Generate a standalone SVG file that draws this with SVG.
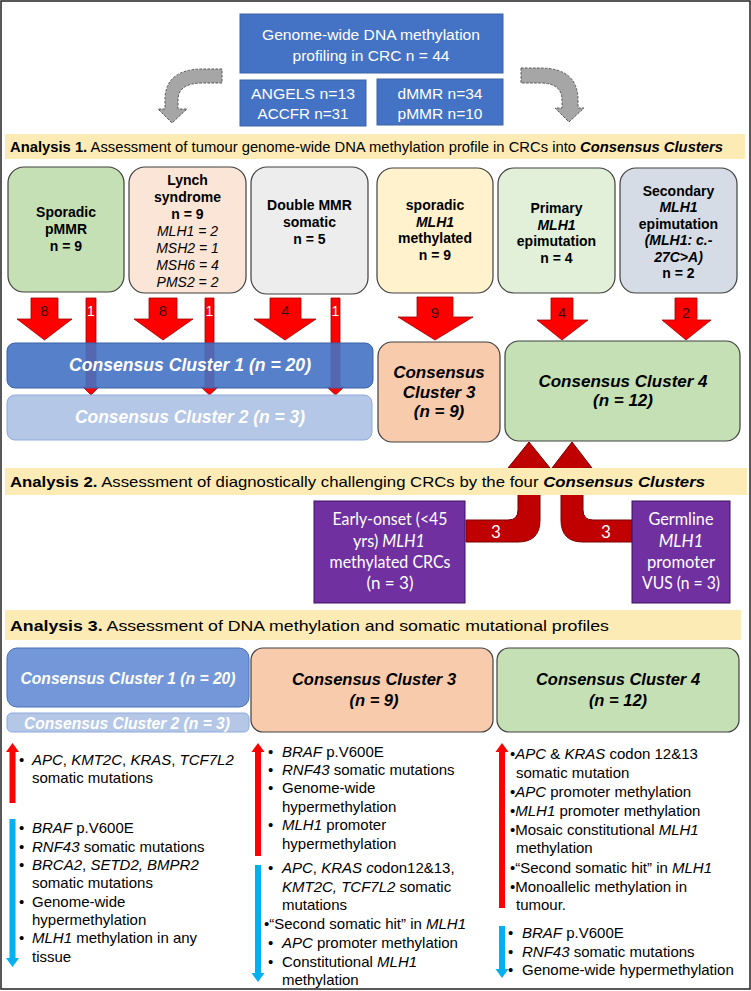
<svg xmlns="http://www.w3.org/2000/svg" width="751" height="991" viewBox="0 0 751 991">
<style>
text{font-family:"Liberation Sans",Arial,sans-serif}
.wt{fill:#fff}
.c{text-anchor:middle}
.bx{font-size:14px;font-weight:bold;fill:#000;text-anchor:middle}
.bxi{font-size:14px;font-style:italic;fill:#000;text-anchor:middle}
.it{font-style:italic}
.bd{font-weight:bold}
.ban{font-size:15px;fill:#000}
.bl{font-size:15px;fill:#000}
.cl{font-weight:bold;font-style:italic;text-anchor:middle}
.pu{font-family:Lato,"Liberation Sans",sans-serif;font-size:17px;fill:#fff;text-anchor:middle}
.grey{fill:#A6A6A6;stroke:#555;stroke-width:1;stroke-dasharray:2.5,1.5}
.red{fill:#FF0000;stroke:#A00000;stroke-width:0.8}
.dred{fill:#C00000;stroke:#7A0000;stroke-width:1}
.lab{font-size:15px;fill:#3a0a0a;text-anchor:middle}
.lw{font-size:14px;fill:#fff;text-anchor:middle}
.banner{fill:#FDEBB5}
</style>
<rect x="1" y="1" width="749" height="988" fill="#fff" stroke="#222" stroke-width="1.5"/>

<g id="top-box">
<rect x="240" y="14" width="263" height="59" fill="#4472C4" stroke="#3A62A8" stroke-width="1"/>
<text class="wt c" x="371" y="40" font-size="15.5" textLength="218" lengthAdjust="spacingAndGlyphs">Genome-wide DNA methylation</text>
<text class="wt c" x="371" y="61" font-size="15.5" textLength="157" lengthAdjust="spacingAndGlyphs">profiling in CRC n = 44</text>
</g>
<g id="cohort-box">
<rect x="240" y="80" width="126" height="46" fill="#4472C4" stroke="#3A62A8" stroke-width="1"/>
<text class="wt c" x="303" y="99" font-size="15.5" textLength="104" lengthAdjust="spacingAndGlyphs">ANGELS n=13</text>
<text class="wt c" x="303" y="119" font-size="15.5" textLength="91" lengthAdjust="spacingAndGlyphs">ACCFR n=31</text>
</g>
<g id="mmr-box">
<rect x="377" y="79" width="126" height="46" fill="#4472C4" stroke="#3A62A8" stroke-width="1"/>
<text class="wt c" x="440" y="99" font-size="15.5" textLength="85" lengthAdjust="spacingAndGlyphs">dMMR n=34</text>
<text class="wt c" x="440" y="119" font-size="15.5" textLength="85" lengthAdjust="spacingAndGlyphs">pMMR n=10</text>
</g>

<g id="banner-1">
<rect class="banner" x="5" y="134" width="740" height="25"/>
<text class="ban" x="10" y="152" textLength="713" lengthAdjust="spacingAndGlyphs"><tspan class="bd">Analysis 1.</tspan> Assessment of tumour genome-wide DNA methylation profile in CRCs into <tspan class="bd it">Consensus Clusters</tspan></text>
</g>

<g id="sporadic-pmmr">
<rect x="8" y="167" width="116" height="125" rx="16" fill="#C5E0B4" stroke="#404040" stroke-width="1.2"/>
<text class="bx" x="66" y="217">Sporadic</text>
<text class="bx" x="66" y="234">pMMR</text>
<text class="bx" x="66" y="251">n = 9</text>
</g>
<g id="lynch">
<rect x="129" y="167" width="117" height="126" rx="16" fill="#FBE5D6" stroke="#404040" stroke-width="1.2"/>
<text class="bx" x="187.5" y="185">Lynch</text>
<text class="bx" x="187.5" y="202">syndrome</text>
<text class="bx" x="187.5" y="219">n = 9</text>
<text class="bxi" x="187.5" y="236">MLH1 = 2</text>
<text class="bxi" x="187.5" y="253">MSH2 = 1</text>
<text class="bxi" x="187.5" y="270">MSH6 = 4</text>
<text class="bxi" x="187.5" y="287">PMS2 = 2</text>
</g>
<g id="double-mmr">
<rect x="251" y="167" width="117" height="127" rx="16" fill="#EDEDED" stroke="#404040" stroke-width="1.2"/>
<text class="bx" x="309.5" y="210">Double MMR</text>
<text class="bx" x="309.5" y="227">somatic</text>
<text class="bx" x="309.5" y="244">n = 5</text>
</g>
<g id="sporadic-mlh1">
<rect x="377" y="168" width="116" height="125" rx="16" fill="#FFF2CC" stroke="#404040" stroke-width="1.2"/>
<text class="bx" x="435" y="210">sporadic</text>
<text class="bx it" x="435" y="227">MLH1</text>
<text class="bx" x="435" y="243">methylated</text>
<text class="bx" x="435" y="260">n = 9</text>
</g>
<g id="primary-epimutation">
<rect x="498" y="168" width="117" height="125" rx="16" fill="#E2F0D9" stroke="#404040" stroke-width="1.2"/>
<text class="bx" x="556.5" y="213">Primary</text>
<text class="bx it" x="556.5" y="230">MLH1</text>
<text class="bx" x="556.5" y="246">epimutation</text>
<text class="bx" x="556.5" y="263">n = 4</text>
</g>
<g id="secondary-epimutation">
<rect x="620" y="168" width="117" height="125" rx="16" fill="#D6DCE5" stroke="#404040" stroke-width="1.2"/>
<text class="bx" x="678.5" y="196">Secondary</text>
<text class="bx it" x="678.5" y="212">MLH1</text>
<text class="bx" x="678.5" y="229">epimutation</text>
<text class="bx it" x="678.5" y="245">(MLH1: c.-</text>
<text class="bx it" x="678.5" y="262">27C&gt;A)</text>
<text class="bx" x="678.5" y="278">n = 2</text>
</g>

<g id="connectors">
<path class="grey" d="M222,69 L203,69 Q165,69 165,100 L165,109 L158,109 L172,123 L187,109 L178,109 L178,100 Q178,83 203,83 L222,83 Z"/>
<path class="grey" d="M521,68 L540,68 Q578,68 578,100 L578,108 L584,108 L569,122 L555,108 L562,108 L562,100 Q562,83 540,83 L521,83 Z"/>

<path class="red" d="M31,298 H58 V319 H72 L44.5,340 L17,319 H31 Z"/>
<text class="lab" x="44.5" y="316">8</text>
<path class="red" d="M86,298 H96 V387 H99 L91,395 L83,387 H86 Z"/>
<text class="lw" x="91" y="316">1</text>
<path class="red" d="M149,298 H177 V319 H193 L163,340 L134,319 H149 Z"/>
<text class="lab" x="163" y="316">8</text>
<path class="red" d="M205,298 H214 V387 H218 L209.5,395 L201,387 H205 Z"/>
<text class="lw" x="209.5" y="316">1</text>
<path class="red" d="M270,298 H301 V319 H316 L285,340 L254,319 H270 Z"/>
<text class="lab" x="285.5" y="316">4</text>
<path class="red" d="M331,298 H340 V387 H344 L335.5,395 L327,387 H331 Z"/>
<text class="lw" x="335.5" y="316">1</text>
<path class="red" d="M417,297 H453 V317 H473 L435,340 L398,317 H417 Z"/>
<text class="lab" x="435" y="318">9</text>
<path class="red" d="M551,298 H573 V320 H588 L562,340 L537,320 H551 Z"/>
<text class="lab" x="562" y="318">4</text>
<path class="red" d="M675,298 H697 V320 H711 L686,340 L662,320 H675 Z"/>
<text class="lab" x="686" y="318">2</text>

<path class="dred" d="M466,520 L508,520 Q518,520 518,510 L518,468 L508,468 L529,442 L550,468 L540,468 L540,520 Q540,542 518,542 L466,542 Z"/>
<text class="pu" x="496" y="538">3</text>
<path class="dred" d="M632,520 L593,520 Q583,520 583,510 L583,468 L592,468 L572,442 L552,468 L561,468 L561,520 Q561,542 583,542 L632,542 Z"/>
<text class="pu" x="606" y="538">3</text>

<path fill="#FF0000" d="M9.5,752 H15.5 V803 H9.5 Z M6,752 L12.5,743 L19,752 Z"/>
<path fill="#00B0F0" d="M9.5,819 H15.5 V958 H9.5 Z M6,958 L12.5,967 L19,958 Z"/>
<path fill="#FF0000" d="M255,752 H261 V856 H255 Z M251.5,752 L258,743 L264.5,752 Z"/>
<path fill="#00B0F0" d="M255,865 H261 V973 H255 Z M251.5,973 L258,982 L264.5,973 Z"/>
<path fill="#FF0000" d="M499,752 H505 V908 H499 Z M495.5,752 L502,743 L508.5,752 Z"/>
<path fill="#00B0F0" d="M499,926 H505 V969 H499 Z M495.5,969 L502,978 L508.5,969 Z"/>
</g>

<g id="cluster-1">
<rect x="7" y="343" width="366" height="45" rx="8" fill="#4472C4" fill-opacity="0.9" stroke="#3A62A8" stroke-width="1"/>
<text class="cl wt" x="190" y="371" font-size="17.5" textLength="242" lengthAdjust="spacingAndGlyphs">Consensus Cluster 1 (n = 20)</text>
</g>
<g id="cluster-2">
<rect x="7" y="395" width="365" height="45" rx="8" fill="#B4C7E7" stroke="#8FAADC" stroke-width="1"/>
<text class="cl wt" x="190" y="423" font-size="17.5" textLength="230" lengthAdjust="spacingAndGlyphs">Consensus Cluster 2 (n = 3)</text>
</g>
<g id="cluster-3">
<rect x="378" y="342" width="122" height="100" rx="14" fill="#F8CBAD" stroke="#404040" stroke-width="1.2"/>
<text class="cl" x="439" y="378" font-size="17">Consensus</text>
<text class="cl" x="439" y="398" font-size="17">Cluster 3</text>
<text class="cl" x="439" y="417" font-size="17">(n = 9)</text>
</g>
<g id="cluster-4">
<rect x="505" y="341" width="235" height="100" rx="14" fill="#C5E0B4" stroke="#404040" stroke-width="1.2"/>
<text class="cl" x="623" y="387" font-size="17">Consensus Cluster 4</text>
<text class="cl" x="623" y="406" font-size="17">(n = 12)</text>
</g>

<g id="banner-2">
<rect class="banner" x="5" y="468" width="742" height="27"/>
<text class="ban" x="10" y="487" textLength="695" lengthAdjust="spacingAndGlyphs" font-size="16"><tspan class="bd">Analysis 2.</tspan> Assessment of diagnostically challenging CRCs by the four <tspan class="bd it">Consensus Clusters</tspan></text>
</g>

<g id="early-onset">
<rect x="314" y="501" width="151" height="102" fill="#7030A0" stroke="#3a1060" stroke-width="1"/>
<text class="pu" x="390" y="525" textLength="115" lengthAdjust="spacingAndGlyphs">Early-onset (&lt;45</text>
<text class="pu" x="389" y="547" textLength="72" lengthAdjust="spacingAndGlyphs">yrs) <tspan class="it">MLH1</tspan></text>
<text class="pu" x="390" y="568" textLength="121" lengthAdjust="spacingAndGlyphs">methylated CRCs</text>
<text class="pu" x="390" y="589">(n = 3)</text>
</g>
<g id="germline-vus">
<rect x="632" y="501" width="98" height="102" fill="#7030A0" stroke="#3a1060" stroke-width="1"/>
<text class="pu" x="681" y="525" textLength="65" lengthAdjust="spacingAndGlyphs">Germline</text>
<text class="pu it" x="681" y="547">MLH1</text>
<text class="pu" x="681" y="568" textLength="68" lengthAdjust="spacingAndGlyphs">promoter</text>
<text class="pu" x="681" y="589" textLength="78" lengthAdjust="spacingAndGlyphs">VUS (n = 3)</text>
</g>

<g id="banner-3">
<rect class="banner" x="5" y="610" width="736" height="30"/>
<text class="ban" x="10" y="631" font-size="17" textLength="599" lengthAdjust="spacingAndGlyphs"><tspan class="bd">Analysis 3.</tspan> Assessment of DNA methylation and somatic mutational profiles</text>
</g>

<g id="a3-cluster-1">
<rect x="7" y="648" width="242" height="59" rx="10" fill="#7397D8" stroke="#4A6FB5" stroke-width="1"/>
<text class="cl wt" x="128" y="684" font-size="15.6" textLength="215" lengthAdjust="spacingAndGlyphs">Consensus Cluster 1 (n = 20)</text>
</g>
<g id="a3-cluster-2">
<rect x="7" y="713" width="242" height="19" rx="5" fill="#B4C7E7" stroke="#8FAADC" stroke-width="1"/>
<text class="cl wt" x="127" y="729" font-size="15.6" textLength="206" lengthAdjust="spacingAndGlyphs">Consensus Cluster 2 (n = 3)</text>
</g>
<g id="a3-cluster-3">
<rect x="251" y="648" width="242" height="84" rx="12" fill="#F8CBAD" stroke="#404040" stroke-width="1.2"/>
<text class="cl" x="374" y="685" font-size="16.5">Consensus Cluster 3</text>
<text class="cl" x="374" y="706" font-size="16.5">(n = 9)</text>
</g>
<g id="a3-cluster-4">
<rect x="497" y="648" width="242" height="84" rx="12" fill="#C5E0B4" stroke="#404040" stroke-width="1.2"/>
<text class="cl" x="618" y="685" font-size="16.5">Consensus Cluster 4</text>
<text class="cl" x="618" y="706" font-size="16.5">(n = 12)</text>
</g>

<g id="cc1-profile">
<text class="bl" x="19" y="765">•</text>
<text class="bl" x="32" y="765"><tspan class="it">APC</tspan>, <tspan class="it">KMT2C</tspan>, <tspan class="it">KRAS</tspan>, <tspan class="it">TCF7L2</tspan></text>
<text class="bl" x="32" y="783">somatic mutations</text>
<text class="bl" x="19" y="833">•</text>
<text class="bl" x="32" y="833"><tspan class="it">BRAF</tspan> p.V600E</text>
<text class="bl" x="19" y="852">•</text>
<text class="bl" x="32" y="852"><tspan class="it">RNF43</tspan> somatic mutations</text>
<text class="bl" x="19" y="870">•</text>
<text class="bl" x="32" y="870"><tspan class="it">BRCA2</tspan>, <tspan class="it">SETD2, BMPR2</tspan></text>
<text class="bl" x="32" y="888">somatic mutations</text>
<text class="bl" x="19" y="907">•</text>
<text class="bl" x="32" y="907">Genome-wide</text>
<text class="bl" x="32" y="925">hypermethylation</text>
<text class="bl" x="19" y="943">•</text>
<text class="bl" x="32" y="943"><tspan class="it">MLH1</tspan> methylation in any</text>
<text class="bl" x="32" y="962">tissue</text>
</g>

<g id="cc3-profile">
<text class="bl" x="268" y="757">•</text>
<text class="bl" x="282" y="757"><tspan class="it">BRAF</tspan> p.V600E</text>
<text class="bl" x="268" y="775">•</text>
<text class="bl" x="282" y="775"><tspan class="it">RNF43</tspan> somatic mutations</text>
<text class="bl" x="268" y="793">•</text>
<text class="bl" x="282" y="793">Genome-wide</text>
<text class="bl" x="282" y="812">hypermethylation</text>
<text class="bl" x="268" y="830">•</text>
<text class="bl" x="282" y="830"><tspan class="it">MLH1</tspan> promoter</text>
<text class="bl" x="282" y="849">hypermethylation</text>
<text class="bl" x="268" y="873">•</text>
<text class="bl" x="282" y="873"><tspan class="it">APC</tspan>, <tspan class="it">KRAS c</tspan>odon12&amp;13,</text>
<text class="bl" x="282" y="892"><tspan class="it">KMT2C, TCF7L2</tspan> somatic</text>
<text class="bl" x="282" y="910">mutations</text>
<text class="bl" x="264" y="929">•“Second somatic hit” in <tspan class="it">MLH1</tspan></text>
<text class="bl" x="268" y="948">•</text>
<text class="bl" x="282" y="948"><tspan class="it">APC</tspan> promoter methylation</text>
<text class="bl" x="268" y="967">•</text>
<text class="bl" x="282" y="967">Constitutional <tspan class="it">MLH1</tspan></text>
<text class="bl" x="282" y="985">methylation</text>
</g>

<g id="cc4-profile">
<text class="bl" x="510" y="759">•<tspan class="it">APC</tspan> &amp; <tspan class="it">KRAS</tspan> codon 12&amp;13</text>
<text class="bl" x="516" y="778">somatic mutation</text>
<text class="bl" x="510" y="797">•<tspan class="it">APC</tspan> promoter methylation</text>
<text class="bl" x="510" y="816">•<tspan class="it">MLH1</tspan> promoter methylation</text>
<text class="bl" x="510" y="835">•Mosaic constitutional <tspan class="it">MLH1</tspan></text>
<text class="bl" x="516" y="853">methylation</text>
<text class="bl" x="510" y="873">•“Second somatic hit” in <tspan class="it">MLH1</tspan></text>
<text class="bl" x="510" y="892">•Monoallelic methylation in</text>
<text class="bl" x="516" y="910">tumour.</text>
<text class="bl" x="508" y="938">•</text>
<text class="bl" x="522" y="938"><tspan class="it">BRAF</tspan> p.V600E</text>
<text class="bl" x="508" y="957">•</text>
<text class="bl" x="522" y="957"><tspan class="it">RNF43</tspan> somatic mutations</text>
<text class="bl" x="508" y="975">•</text>
<text class="bl" x="522" y="975">Genome-wide hypermethylation</text>
</g>
</svg>
